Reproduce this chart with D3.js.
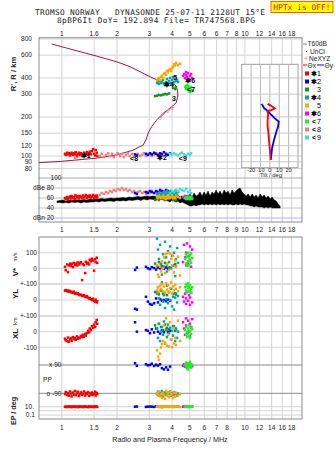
<!DOCTYPE html>
<html><head><meta charset="utf-8">
<script src="https://cdn.jsdelivr.net/npm/d3@7"></script>
<style>
body{margin:0;background:#fff}
svg{display:block}
text{font-family:"Liberation Sans",Arial,sans-serif;fill:#222}
.mono{font-family:"DejaVu Sans Mono",monospace}
</style></head><body>
<svg id="c" width="335" height="451"></svg>
<script>
// ---- axes / ticks ----
const freqTicks = [1,1.5,2,3,4,5,6,7,8,9,10,12,14,16,18];
const topFreqLabels = ["1","1.6","2","3","4","5","6","6","7","8","10","12","14","16","18"];
const midFreqLabels = ["1","1.5","2","3","4","5","6","7","8","9","10","12","14","16","18"];
const lowFreqLabels = ["1","1.5","2","3","4","5","6","7","8","","10","12","14","16","18"];
const rangeTicks = [80,90,100,120,150,200,300,400,600,800];
const ampTicks = [100,80,60,40,20];
const ampLabels = ["100","dBe 80","60","40","dBn 20"];
const tiltTicks = [-20,-10,0,10,20];

// ---- true-height profile N(h): [MHz, km] ----
const profile = [[0.75,88.8],[1.0,91],[1.52,96],[1.99,101.8],[2.45,111],[2.78,121.6],[2.88,133],
 [2.96,150],[3.09,168],[3.30,190],[3.58,214],[3.78,226],[3.98,240],[4.21,257],[4.30,290],
 [4.29,323],[4.15,356],[3.90,363],[3.58,368],[3.03,409],[2.36,489],[1.99,534],[1.55,590],[0.88,731]];
// NeXYZ points [MHz, km]
const neXYZ = [[3.48,200],[3.80,226],[4.03,237]];

// ---- echo modes: [f MHz, R' km, amp dB, V* m/s, YL km, XL km, PP deg, EP deg] ----
const mode1 = [
 [1.04,104,60,10,58,-45,-95,9],[1.05,102,58,-12,62,-55,-82,11],[1.07,106,62,25,55,-60,-100,8],
 [1.08,103,57,-24,60,-38,-88,10],[1.09,105,61,20,52,-65,-105,12],[1.11,101,63,30,56,-50,-78,9],
 [1.12,104,59,15,50,-42,-92,11],[1.13,106,64,28,48,-58,-110,8],[1.15,102,60,8,45,-35,-85,10],
 [1.16,105,62,35,52,-48,-98,12],[1.18,103,58,22,40,-40,-75,9],[1.19,107,65,30,44,-52,-102,11],
 [1.21,101,61,18,38,-30,-90,10],[1.22,104,63,38,42,-45,-80,8],[1.24,106,59,25,35,-38,-108,12],
 [1.25,102,64,32,30,-42,-95,9],[1.27,105,62,40,33,-28,-84,11],[1.29,103,60,-75,28,-35,-100,10],
 [1.30,100,65,28,25,-20,-92,8],[1.32,106,61,20,30,-32,-78,12],[1.34,102,63,-30,22,-15,-104,9],
 [1.35,104,66,42,18,-25,-88,11],[1.37,107,60,30,24,-10,-96,10],[1.39,102,64,36,15,5,-82,8],
 [1.41,105,62,25,10,-5,-106,12],[1.42,108,65,55,12,20,-90,9],[1.44,103,61,45,5,10,-98,11],
 [1.46,109,63,62,0,35,-85,10],[1.48,113,66,50,8,25,-100,8],[1.50,104,60,-15,-5,45,-92,12],
 [1.52,101,64,58,-10,30,-80,9],[1.53,111,62,40,2,60,-104,11],[1.55,106,65,68,-15,75,-88,10],
 [1.56,100,61,35,-8,50,-96,9]];
const mode2 = [
 [2.51,103,70,-10,-55,60,101,10],[2.57,101,68,5,-60,0,85,11],[2.88,104,72,10,20,10,95,9],
 [2.95,102,70,0,-10,5,88,10],[3.03,105,74,-5,-25,-10,90,11],[3.10,103,72,8,-30,15,98,10],
 [3.19,106,70,2,-20,-5,84,9],[3.27,104,74,-8,10,20,92,12],[3.35,102,72,5,-15,0,86,10],
 [3.44,105,76,0,5,-12,95,11],[3.52,103,74,12,-5,8,70,9],[3.61,107,72,-3,0,-4,62,10],
 [3.71,104,76,6,-8,12,75,11],[3.80,102,74,-2,2,-2,60,10],[3.90,105,72,4,-4,6,80,12]];
const mode3 = [
 [3.23,290,56,30,50,40,null,null],[3.31,292,58,15,55,20,null,null],[3.39,296,56,40,35,50,null,null],
 [3.48,294,60,20,60,30,null,null],[3.57,298,58,10,40,10,null,null],[3.66,301,56,35,45,45,null,null],
 [3.75,299,60,25,30,25,null,null],[3.85,304,58,5,50,15,null,null],[4.05,335,56,18,38,35,null,null],
 [4.16,328,58,28,42,5,null,null],[4.20,340,56,12,34,20,null,null]];
const mode4 = [
 [3.31,366,68,190,40,20,-95,10],[3.35,372,66,120,80,-40,-80,11],[3.39,360,70,60,10,50,-105,9],
 [3.44,379,64,150,-30,-60,-88,12],[3.48,366,68,30,60,0,-100,10],[3.52,372,66,-40,110,30,-76,8],
 [3.57,386,70,90,-10,-20,-110,11],[3.61,360,72,10,30,65,-92,10],[3.66,353,66,170,-50,-75,-84,9],
 [3.71,372,68,70,5,10,-98,12],[3.75,393,74,-20,90,-35,-102,10],[3.80,360,70,110,-20,45,-86,11],
 [3.85,379,72,40,50,-10,-94,9],[3.90,400,68,140,0,25,-78,10],[3.95,366,74,0,70,-50,-106,12],
 [4.00,386,70,80,-40,5,-90,10],[4.05,406,72,20,20,-25,-100,11],[4.10,372,68,100,-60,35,-82,9],
 [4.16,393,74,-50,15,-60,-96,10],[4.20,379,70,60,40,15,-88,12],[4.26,386,66,130,-15,-40,-104,10],
 [4.31,372,72,35,25,0,-92,11]];
const mode5 = [
 [3.31,385,62,20,60,-120,-90,10],[3.35,392,60,-40,80,-160,-100,11],[3.39,400,64,-55,50,-180,-80,9],
 [3.44,385,62,10,90,-140,-110,12],[3.48,408,60,-20,70,-100,-95,10],[3.52,415,62,45,100,-80,-120,11],
 [3.57,400,64,0,55,-60,-85,9],[3.61,430,60,70,85,40,-100,10],[3.66,437,62,-30,45,-70,-125,12],
 [3.71,422,58,90,105,85,-75,10],[3.75,453,62,30,65,-90,-105,11],[3.80,445,60,100,95,-20,-90,9],
 [3.85,461,64,-10,50,-95,-115,10],[3.90,468,60,95,75,60,-80,12],[3.95,453,62,60,110,-50,-100,10],
 [4.00,476,64,20,40,-100,-95,11],[4.05,490,60,80,85,20,-120,9],[4.10,510,62,-25,60,-75,-85,10],
 [4.16,500,60,50,95,-40,-110,12],[4.20,523,64,10,70,-85,-90,10],[4.31,503,62,75,55,70,-105,11],
 [4.42,516,60,-45,80,-60,-95,9]];
const mode6 = [
 [4.59,415,62,40,20,60,85,10],[4.65,429,60,150,-10,20,95,11],[4.71,400,64,70,40,-20,78,9],
 [4.77,444,62,20,-25,85,100,10],[4.77,422,60,100,10,40,88,12],[4.83,407,62,160,50,-10,92,10],
 [4.89,436,64,30,-5,70,80,11],[4.95,393,60,80,30,0,98,9],[5.01,415,62,140,-30,50,86,10],
 [5.01,386,58,50,15,-30,94,12],[5.08,429,62,10,45,30,90,10],[5.15,400,60,120,-15,80,82,11]];
const mode7 = [
 [4.71,341,60,60,80,10,95,10],[4.77,347,58,90,100,-20,80,11],[4.77,329,62,30,60,30,105,9],
 [4.83,353,60,75,90,0,88,10],[4.83,335,58,15,50,-35,70,12],[4.89,323,62,100,75,20,100,10],
 [4.89,347,60,45,104,-10,62,9],[4.95,317,58,70,55,40,92,11],[4.95,335,62,20,85,-25,78,10],
 [5.01,329,60,85,65,5,110,10],[5.01,312,58,55,95,-40,84,12],[5.08,341,62,35,70,25,96,9],
 [5.08,323,60,95,45,-15,74,10],[5.15,317,58,65,80,15,90,11]];
const mode8 = [
 [1.18,96.5,66],[1.21,98,64],[1.61,100,66],[1.65,104,70],[1.70,98,68],[1.74,102,72],[1.79,105,70],
 [1.83,100,74],[1.88,104,72],[1.92,98,76],[1.97,102,74],[2.02,105,78],[2.08,100,76],[2.13,104,80],
 [2.18,98,76],[2.24,102,78],[2.29,105,74],[2.35,100,76],[2.42,104,72],[2.48,98,74],[2.54,102,70],
 [2.60,104,72],[2.67,100,74],[2.74,102,70],[2.81,105,72],[2.88,100,68],[2.95,102,72],[3.03,104,70],
 [3.10,100,74],[3.19,102,70],[3.27,105,72],[3.35,100,68],[3.44,102,72],[3.52,104,70],[3.61,100,74],
 [3.71,102,70]];
const mode9 = [
 [3.90,104,70],[4.00,102,74],[4.10,105,72],[4.20,103,76],[4.31,101,74],[4.42,104,78],
 [4.53,106,76],[4.65,103,74],[4.77,101,78],[4.89,104,72],[5.01,102,76],[5.08,105,70]];

const modeNames = ["✱1","✱2"," 3","✱4"," 5","✱6","<7","<8","<9"];
const modeColors = ["#ff0000","#0000ff","#228b22","#00a8a8","#ffa500","#ff00ff","#22ee22","#f08080","#40e0d0"];
// trace annotations [text, f MHz, R' km]
const traceLabels = [["✱1",1.35,101],["<8",2.48,96],["✱2",3.52,97.5],["<9",4.58,96],
 ["✱4",3.85,358],["5",4.16,405],["✱6",5.02,384],["<7",5.08,326],["3",4.10,279]];

// receiver noise band [f MHz, low dB, high dB]
const noise = [
 [0.94,51,54],[0.975,51,55],[1.013,50,56],[1.052,51,54],[1.092,50,56],[1.134,52,55],[1.178,51,57],
 [1.223,52,56],[1.270,50,56],[1.319,52,57],[1.370,51,56],[1.423,52,58],[1.478,52,57],[1.534,53,58],
 [1.594,52,58],[1.655,54,59],[1.719,53,58],[1.785,54,59],[1.854,54,60],[1.925,53,59],[1.999,55,60],
 [2.076,54,60],[2.156,55,61],[2.239,54,60],[2.325,56,62],[2.415,55,61],[2.508,56,62],[2.604,57,63],
 [2.705,55,62],[2.809,58,63],[2.917,56,64],[3.029,58,63],[3.146,57,64],[3.267,56,63],[3.393,58,65],
 [3.523,57,64],[3.659,56,64],[3.80,54,64],[3.897,52,66],[3.996,56,64],[4.098,54,66],[4.203,52,64],
 [4.310,54,66],[4.420,50,62],[4.533,52,64],[4.648,50,62],[4.767,48,66],[4.888,46,62],[5.013,44,68],
 [5.141,44,62],[5.272,46,70],[5.407,44,64],[5.544,46,66],[5.686,46,72],[5.831,48,64],[5.980,46,72],
 [6.132,48,66],[6.289,46,74],[6.449,48,64],[6.614,46,72],[6.782,48,68],[6.955,46,76],[7.133,48,68],
 [7.314,46,74],[7.501,48,66],[7.693,46,76],[7.889,48,70],[8.090,46,74],[8.297,48,66],[8.508,46,76],
 [8.725,46,70],[8.948,48,74],[9.176,46,78],[9.410,48,80],[9.650,46,72],[9.897,48,68],[10.15,46,64],
 [10.41,46,68],[10.67,44,62],[10.95,44,68],[11.23,42,62],[11.51,44,66],[11.81,42,60],[12.11,42,68],
 [12.42,42,62],[12.73,40,66],[13.06,42,60],[13.39,40,64],[13.73,42,58],[14.08,40,62],[14.44,40,56],
 [14.81,40,54],[15.19,40,48],[15.57,40,44]];

// tilt angles [deg, km]
const tiltX = [[-2.4,252],[1.8,243],[5.3,233],[1.8,226],[-2.4,223],[-1.8,207],[-2.4,190],[-2.4,168],
 [-1.5,150],[-1,133],[0,112],[1,93]];
const tiltY = [[-8.7,252],[-6,233],[-3.5,226],[0,213],[5.3,195],[9.5,184],[8.7,168],[7,154],
 [4.5,133],[2.4,115],[1,93]];

// ---- scales ----
const svg = d3.select("#c");
const X0 = 39, X1 = 302, UT = 37.7, UB = 222, LT = 237, LB = 419;
const x = d3.scaleLog().domain([0.75,20.5]).range([X0,X1]);
const yR = d3.scaleLog().domain([100,800]).range([156,39]);
const yA = d3.scaleLinear().domain([20,100]).range([218,178]);
const yV = d3.scaleLinear().domain([-100,100]).range([284,252.7]);
const yYL = d3.scaleLinear().domain([-100,100]).range([316,284]);
const yXL = d3.scaleLinear().domain([-100,100]).range([347.3,316]);
const yPP = d3.scaleLinear().domain([-90,90]).range([393.3,365]);
const yEP = d3.scaleLog().domain([0.1,10]).range([415,406.7]);
const xT = d3.scaleLinear().domain([-30,30]).range([241.7,298]);
const yTi = d3.scaleLog().domain([81,510]).range([167.7,64.3]);

const gridC = "#d4d4d4", frameC = "#8c8c8c";

// ---- header ----
svg.append("text").attr("class","mono").attr("x",35).attr("y",14.8)
  .attr("font-size",7.8).attr("textLength",230).attr("lengthAdjust","spacing")
  .attr("fill","#000").style("white-space","pre")
  .text("TROMSO NORWAY   DYNASONDE 25-07-11 2128UT 15°E");
svg.append("text").attr("class","mono").attr("x",57).attr("y",23.4)
  .attr("font-size",7.8).attr("textLength",198).attr("lengthAdjust","spacing")
  .attr("fill","#000").style("white-space","pre")
  .text("8pBP6It DoY= 192.894 File= TR747568.BPG");
svg.append("rect").attr("x",271).attr("y",1.5).attr("width",62).attr("height",11)
  .attr("fill","#ffff00").attr("stroke","#ff3000").attr("stroke-width",0.8);
svg.append("text").attr("class","mono").attr("x",273.5).attr("y",10.4)
  .attr("font-size",7.8).attr("textLength",57).attr("lengthAdjust","spacing")
  .style("fill","#ff0000").style("white-space","pre").text("HPTx is OFF!");

// ---- grids ----
const g = svg.append("g");
freqTicks.forEach(f => {
  g.append("line").attr("x1",x(f)).attr("x2",x(f)).attr("y1",UT).attr("y2",UB).attr("stroke",gridC);
  g.append("line").attr("x1",x(f)).attr("x2",x(f)).attr("y1",LT).attr("y2",LB).attr("stroke",gridC);
});
rangeTicks.forEach(h => g.append("line").attr("x1",X0).attr("x2",X1).attr("y1",yR(h)).attr("y2",yR(h)).attr("stroke",gridC));
ampTicks.forEach(a => g.append("line").attr("x1",X0).attr("x2",X1).attr("y1",yA(a)).attr("y2",yA(a))
  .attr("stroke", a===20 ? "#b4b4ec" : (a===100 ? "#a8a8a8" : "#c4c4c4")));
[100,0,-100].forEach(v => {
  g.append("line").attr("x1",X0).attr("x2",X1).attr("y1",yV(v)).attr("y2",yV(v)).attr("stroke",gridC);
  g.append("line").attr("x1",X0).attr("x2",X1).attr("y1",yYL(v)).attr("y2",yYL(v)).attr("stroke",gridC);
  g.append("line").attr("x1",X0).attr("x2",X1).attr("y1",yXL(v)).attr("y2",yXL(v)).attr("stroke",gridC);
});
[90,-90].forEach(p => g.append("line").attr("x1",X0).attr("x2",X1).attr("y1",yPP(p)).attr("y2",yPP(p)).attr("stroke","#8a8a8a"));
[10,1,0.1].forEach(e => g.append("line").attr("x1",X0).attr("x2",X1).attr("y1",yEP(e)).attr("y2",yEP(e)).attr("stroke",gridC));

// frames
svg.append("rect").attr("x",X0).attr("y",UT).attr("width",X1-X0).attr("height",UB-UT).attr("fill","none").attr("stroke",frameC);
svg.append("rect").attr("x",X0).attr("y",LT).attr("width",X1-X0).attr("height",LB-LT).attr("fill","none").attr("stroke",frameC);

// ---- tick labels ----
const tl = (txt, xx, yy, anchor, size) => svg.append("text").attr("x",xx).attr("y",yy)
  .attr("text-anchor",anchor||"middle").attr("font-size",size||6.6).text(txt);
freqTicks.forEach((f,i) => {
  tl(topFreqLabels[i], x(f), 35.5);
  tl(midFreqLabels[i], x(f), 231.8);
  tl(lowFreqLabels[i], x(f), 429.8);
});
rangeTicks.forEach(h => tl(String(h), 32, yR(h)+2.3, "end"));
ampTicks.forEach((a,i) => tl(ampLabels[i], a===100 ? 61.5 : 54, yA(a)+2.3, "end"));
tl("100",37,yV(100)+2.3,"end"); tl("0",37,yV(0)+2.3,"end"); tl("+-100",37,yV(-100)+2.3,"end");
tl("0",37,yYL(0)+2.3,"end"); tl("+-100",37,yYL(-100)+2.3,"end");
tl("0",37,yXL(0)+2.3,"end"); tl("-100",37,yXL(-100)+2.3,"end");
tl("x 90",61.5,yPP(90)+2.3,"end"); tl("PP",43,381.6,"start"); tl("o -90",61.5,yPP(-90)+2.3,"end");
tl("10.",34,yEP(10)+2.3,"end"); tl("0.1",35,yEP(0.1)+2.3,"end");

// axis titles
const vt = (txt, xx, yy, size, bold) => svg.append("text")
  .attr("transform",`translate(${xx},${yy}) rotate(-90)`).attr("text-anchor","middle")
  .attr("font-size",size).attr("font-weight",bold?"bold":"normal").text(txt);
vt("R', R / km",16,74,7.6,true);
vt("V*",17.5,272,8,true); vt("m/s",17,257,5.6,false);
vt("YL",17.5,294,8,true); vt("km",17,321,5.6,false);
vt("XL",17.5,334,8,true);
vt("EP / deg",16,411,7.2,true);
svg.append("text").attr("x",170).attr("y",441.5).attr("text-anchor","middle").attr("font-size",7.2)
  .attr("fill","#222").text("Radio and Plasma Frequency / MHz");

// ---- amplitude noise ----
svg.append("path").datum(noise)
  .attr("d", d3.area().x(d=>x(d[0])).y0(d=>yA(d[1])).y1(d=>yA(d[2])))
  .attr("fill","#000").attr("stroke","#000").attr("stroke-width",0.5);

// ---- profile ----
svg.append("path").datum(profile).attr("d", d3.line().x(d=>x(d[0])).y(d=>yR(d[1])))
  .attr("fill","none").attr("stroke","#a01840").attr("stroke-width",1);
svg.append("path").datum(neXYZ).attr("d", d3.line().x(d=>x(d[0])).y(d=>yR(d[1])))
  .attr("fill","none").attr("stroke","#f07090").attr("stroke-width",1);
neXYZ.forEach(d => svg.append("text").attr("x",x(d[0])).attr("y",yR(d[1])+2.5).attr("text-anchor","middle")
  .attr("font-size",6).style("fill","#f07090").text("z"));

// ---- echoes ----
const modes = [mode1,mode2,mode3,mode4,mode5,mode6,mode7,mode8,mode9];
const order = [7,0,1,2,3,4,5,6,8];
const S = 2.5;
const panels = [[1,yR],[2,yA],[3,yV],[4,yYL],[5,yXL],[6,yPP],[7,yEP]];
order.forEach(m => {
  const gm = svg.append("g").attr("fill", modeColors[m]);
  panels.forEach(([k, sc]) => {
    modes[m].filter(d => d[k] != null).forEach(d => {
      gm.append("rect").attr("x", x(d[0]) - S/2).attr("y", sc(d[k]) - S/2).attr("width",S).attr("height",S);
    });
  });
});
traceLabels.forEach(t => svg.append("text").attr("x",x(t[1])).attr("y",yR(t[2])+2.5)
  .attr("text-anchor","middle").attr("font-size",7).attr("font-weight","bold").style("fill","#000")
  .attr("font-family","DejaVu Sans").text(t[0]));

// ---- tilt inset ----
const gi = svg.append("g");
gi.append("rect").attr("x",xT(-30)).attr("y",yTi(510)).attr("width",xT(30)-xT(-30))
  .attr("height",yTi(81)-yTi(510)).attr("fill","#fff").attr("stroke","#a0a0a0");
tiltTicks.forEach(t => gi.append("line").attr("x1",xT(t)).attr("x2",xT(t)).attr("y1",yTi(510)).attr("y2",yTi(81)).attr("stroke","#b8b8b8"));
rangeTicks.filter(h => h > 81 && h < 510).forEach(h => gi.append("line").attr("x1",xT(-30)).attr("x2",xT(30))
  .attr("y1",yTi(h)).attr("y2",yTi(h)).attr("stroke","#c8c8c8"));
gi.append("path").datum(tiltY).attr("d", d3.line().x(d=>xT(d[0])).y(d=>yTi(d[1])))
  .attr("fill","none").attr("stroke","#0000ff").attr("stroke-width",1.8);
gi.append("path").datum(tiltX).attr("d", d3.line().x(d=>xT(d[0])).y(d=>yTi(d[1])))
  .attr("fill","none").attr("stroke","#ff0000").attr("stroke-width",1.8);
tiltTicks.forEach(t => tl(String(t), xT(t), 172.2, "middle", 5.6));
tl("Tilt / deg", 271, 177.2, "middle", 5.8);

// ---- legend ----
const L = svg.append("g");
const LX = 303;
L.append("line").attr("x1",LX).attr("x2",LX+4).attr("y1",44).attr("y2",44).attr("stroke","#888");
L.append("text").attr("x",LX+4.5).attr("y",46.3).attr("font-size",6.6).text("T60dB");
L.append("circle").attr("cx",LX+3.5).attr("cy",51.5).attr("r",0.6).attr("fill","#000");
L.append("text").attr("x",LX+7).attr("y",53.6).attr("font-size",6.6).text("UnCl");
L.append("text").attr("x",LX+3).attr("y",60.7).attr("font-size",7).attr("text-anchor","middle").style("fill","#f07090").text("+");
L.append("text").attr("x",LX+6).attr("y",60.7).attr("font-size",6.6).text("NeXYZ");
L.append("line").attr("x1",LX).attr("x2",LX+4).attr("y1",65).attr("y2",65).attr("stroke","#ff0000");
L.append("text").attr("x",LX+4.5).attr("y",67.6).attr("font-size",6.6).text("Θx");
L.append("line").attr("x1",LX+14).attr("x2",LX+21).attr("y1",65).attr("y2",65).attr("stroke","#0000ff");
L.append("text").attr("x",LX+21.5).attr("y",67.6).attr("font-size",6.6).text("Θy");
modeNames.forEach((nm,i) => {
  const cy = 73.5 + i*8;
  L.append("rect").attr("x",LX+2).attr("y",cy-2).attr("width",4).attr("height",4).attr("fill",modeColors[i]);
  L.append("text").attr("x",LX+11).attr("y",cy+2.5).attr("font-size",7).attr("font-weight","bold")
    .attr("font-family","DejaVu Sans").attr("text-anchor","middle").style("fill","#000").text(nm[0]===" "?"":nm[0]);
  L.append("text").attr("x",LX+14).attr("y",cy+2.5).attr("font-size",7.2).style("fill","#000").text(nm.slice(1));
});
</script></body></html>
